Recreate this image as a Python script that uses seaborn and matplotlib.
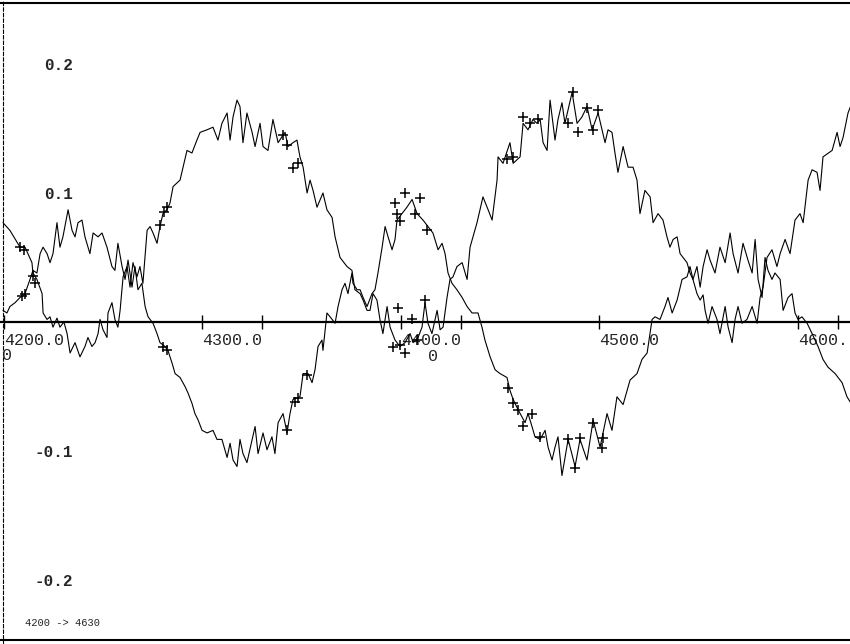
import pandas as pd
import seaborn as sns
from matplotlib import pyplot as plt

# curva P (lobulos grandes en 4320 y 4490)
p_x = [4199.5, 4203.0, 4208.1, 4210.6, 4214.1, 4214.6, 4216.6, 4219.2, 4219.7, 4221.7,
       4223.2, 4224.7, 4226.7, 4228.2, 4230.2, 4231.8, 4233.3, 4235.8, 4238.3, 4240.8,
       4242.3, 4244.3, 4245.9, 4247.4, 4248.4, 4249.9, 4251.9, 4252.4, 4254.4, 4255.9,
       4257.4, 4258.5, 4260.0, 4262.0, 4263.5, 4265.0, 4267.0, 4268.5, 4270.0, 4272.1,
       4273.6, 4275.1, 4277.1, 4278.6, 4280.1, 4282.1, 4283.6, 4285.2, 4288.7, 4290.2,
       4292.2, 4294.7, 4297.2, 4298.8, 4302.3, 4305.3, 4307.8, 4309.8, 4312.4, 4313.9,
       4315.4, 4317.4, 4318.9, 4320.4, 4322.4, 4325.0, 4326.5, 4329.0, 4330.5, 4333.0,
       4335.5, 4338.1, 4340.6, 4341.6, 4343.1, 4345.6, 4347.6, 4349.1, 4350.7, 4351.7,
       4352.7, 4354.2, 4355.7, 4357.7, 4360.7, 4362.7, 4365.3, 4366.8, 4369.3, 4372.8,
       4375.3, 4376.8, 4379.4, 4380.9, 4382.9, 4384.4, 4385.9, 4387.9, 4389.4, 4390.9,
       4393.0, 4394.5, 4397.0, 4399.5, 4402.0, 4404.6, 4406.1, 4408.6, 4410.6, 4412.1,
       4413.6, 4415.6, 4418.2, 4419.7, 4421.2, 4423.2, 4424.7, 4426.2, 4428.2, 4430.8,
       4433.3, 4434.8, 4438.3, 4441.3, 4443.9, 4445.9, 4448.4, 4448.9, 4451.4, 4454.9,
       4456.5, 4460.0, 4461.5, 4464.0, 4466.5, 4468.5, 4470.1, 4471.6, 4473.6, 4475.1,
       4477.6, 4479.1, 4481.1, 4482.6, 4486.2, 4488.7, 4491.2, 4493.7, 4496.3, 4499.3,
       4501.3, 4502.8, 4504.3, 4506.3, 4507.8, 4509.3, 4511.9, 4514.4, 4516.9, 4518.9,
       4520.4, 4522.9, 4525.5, 4527.0, 4529.5, 4532.0, 4534.0, 4535.5, 4537.1, 4539.1,
       4540.6, 4542.1, 4544.1, 4545.6, 4547.1, 4549.1, 4550.7, 4552.2, 4553.2, 4554.7,
       4556.7, 4559.2, 4560.7, 4563.3, 4564.8, 4566.8, 4568.3, 4569.8, 4571.8, 4574.3,
       4576.9, 4579.4, 4580.9, 4582.4, 4584.4, 4586.9, 4589.4, 4591.0, 4593.5, 4596.0,
       4598.5, 4601.0, 4602.6, 4605.1, 4607.1, 4609.6, 4611.1, 4612.6, 4617.2, 4619.7,
       4621.2, 4622.7, 4625.2, 4626.7]
p_y = [0.077, 0.071, 0.058, 0.058, 0.046, 0.038, 0.033, 0.022, 0.007, 0.002,
       0.004, -0.004, 0.003, -0.004, 0.000, -0.009, -0.024, -0.016, -0.027, -0.019,
       -0.012, -0.019, -0.016, -0.009, 0.002, -0.006, -0.012, 0.007, 0.015, 0.002,
       -0.004, 0.009, 0.035, 0.043, 0.027, 0.046, 0.035, 0.043, 0.030, 0.071,
       0.074, 0.069, 0.061, 0.074, 0.084, 0.087, 0.092, 0.105, 0.110, 0.120,
       0.133, 0.131, 0.141, 0.147, 0.149, 0.151, 0.141, 0.154, 0.162, 0.141,
       0.159, 0.172, 0.167, 0.139, 0.162, 0.147, 0.136, 0.154, 0.136, 0.133,
       0.157, 0.139, 0.145, 0.147, 0.136, 0.139, 0.141, 0.128, 0.120, 0.110,
       0.100, 0.110, 0.102, 0.089, 0.100, 0.087, 0.081, 0.066, 0.050, 0.043,
       0.040, 0.025, 0.022, 0.017, 0.009, 0.009, 0.022, 0.017, 0.002, -0.009,
       0.012, -0.004, -0.014, -0.019, -0.016, -0.009, -0.016, -0.012, -0.004, 0.015,
       -0.001, -0.009, 0.009, -0.006, -0.004, 0.019, 0.033, 0.035, 0.043, 0.046,
       0.033, 0.058, 0.077, 0.097, 0.087, 0.079, 0.110, 0.128, 0.123, 0.139,
       0.123, 0.128, 0.154, 0.149, 0.157, 0.154, 0.157, 0.139, 0.133, 0.172,
       0.141, 0.157, 0.170, 0.154, 0.178, 0.154, 0.159, 0.167, 0.149, 0.162,
       0.149, 0.139, 0.149, 0.147, 0.131, 0.116, 0.136, 0.120, 0.120, 0.110,
       0.084, 0.102, 0.097, 0.077, 0.084, 0.079, 0.066, 0.058, 0.064, 0.066,
       0.053, 0.050, 0.046, 0.038, 0.033, 0.022, 0.017, 0.021, 0.009, -0.001,
       0.012, 0.002, -0.009, 0.012, -0.004, -0.016, 0.002, 0.012, -0.001, 0.002,
       0.012, -0.001, 0.019, 0.027, 0.050, 0.056, 0.043, 0.053, 0.064, 0.053,
       0.079, 0.084, 0.077, 0.110, 0.118, 0.116, 0.102, 0.128, 0.133, 0.147,
       0.136, 0.143, 0.162, 0.168]

# curva Q (la otra, valles en 4320 y 4485)
q_x = [4199.5, 4201.5, 4203.0, 4205.6, 4208.1, 4210.6, 4213.1, 4214.6, 4216.6, 4218.2,
       4219.7, 4221.7, 4223.2, 4224.7, 4226.7, 4228.2, 4229.7, 4232.3, 4234.3, 4235.8,
       4237.3, 4239.3, 4240.8, 4243.3, 4244.9, 4247.4, 4249.4, 4251.9, 4254.4, 4255.9,
       4257.4, 4259.5, 4261.0, 4262.5, 4264.5, 4266.0, 4267.5, 4269.5, 4271.1, 4272.6,
       4275.1, 4277.1, 4278.6, 4281.1, 4282.6, 4284.7, 4286.2, 4288.7, 4291.2, 4292.7,
       4294.7, 4296.2, 4297.8, 4299.8, 4302.3, 4305.3, 4307.3, 4309.8, 4312.4, 4313.9,
       4315.4, 4317.4, 4318.9, 4320.4, 4322.4, 4325.0, 4326.5, 4328.0, 4330.5, 4332.5,
       4335.0, 4336.5, 4338.1, 4340.6, 4342.6, 4344.1, 4345.6, 4349.1, 4350.7, 4353.2,
       4355.2, 4356.7, 4358.2, 4360.2, 4360.7, 4362.7, 4364.3, 4366.8, 4368.3, 4370.3,
       4371.8, 4373.3, 4375.3, 4375.8, 4377.9, 4379.4, 4380.9, 4382.9, 4385.4, 4386.9,
       4388.4, 4390.5, 4392.0, 4393.5, 4395.5, 4397.0, 4398.0, 4400.5, 4403.0, 4405.6,
       4408.1, 4411.1, 4413.6, 4416.1, 4418.7, 4420.7, 4422.2, 4423.7, 4425.7, 4428.2,
       4430.8, 4433.3, 4435.8, 4438.8, 4440.8, 4442.3, 4444.9, 4447.4, 4449.9, 4453.4,
       4454.9, 4456.5, 4459.0, 4462.5, 4464.0, 4466.0, 4467.5, 4470.1, 4472.6, 4474.1,
       4476.1, 4477.6, 4479.1, 4481.1, 4484.2, 4487.7, 4490.2, 4493.7, 4496.8, 4500.3,
       4503.8, 4506.3, 4508.8, 4511.9, 4515.4, 4518.9, 4521.4, 4524.0, 4526.5, 4528.0,
       4530.5, 4533.0, 4534.5, 4536.6, 4539.1, 4541.6, 4544.1, 4545.6, 4547.1, 4549.1,
       4550.7, 4552.2, 4554.2, 4555.7, 4558.2, 4560.7, 4563.3, 4565.8, 4567.3, 4569.8,
       4572.3, 4574.8, 4576.9, 4578.4, 4579.9, 4581.9, 4583.4, 4584.9, 4586.9, 4588.4,
       4591.0, 4592.5, 4595.0, 4597.0, 4598.5, 4600.0, 4602.0, 4604.6, 4607.1, 4610.1,
       4612.6, 4615.1, 4618.7, 4622.2, 4624.7, 4626.7]
q_y = [0.009, 0.007, 0.012, 0.015, 0.019, 0.022, 0.033, 0.040, 0.038, 0.053,
       0.058, 0.053, 0.046, 0.053, 0.077, 0.058, 0.066, 0.087, 0.071, 0.066,
       0.077, 0.079, 0.066, 0.053, 0.069, 0.066, 0.069, 0.058, 0.043, 0.040,
       0.061, 0.043, 0.033, 0.048, 0.027, 0.043, 0.025, 0.030, 0.012, 0.004,
       -0.001, -0.009, -0.016, -0.019, -0.022, -0.032, -0.040, -0.043, -0.050, -0.055,
       -0.063, -0.071, -0.076, -0.084, -0.086, -0.084, -0.091, -0.091, -0.105, -0.094,
       -0.107, -0.112, -0.091, -0.102, -0.109, -0.091, -0.081, -0.102, -0.086, -0.099,
       -0.089, -0.102, -0.078, -0.071, -0.086, -0.071, -0.060, -0.058, -0.040, -0.040,
       -0.047, -0.037, -0.019, -0.014, -0.022, 0.007, 0.004, -0.001, 0.012, 0.025,
       0.030, 0.022, 0.038, 0.030, 0.025, 0.025, 0.019, 0.012, 0.022, 0.025,
       0.038, 0.058, 0.074, 0.066, 0.056, 0.064, 0.079, 0.084, 0.089, 0.095,
       0.084, 0.079, 0.074, 0.069, 0.056, 0.061, 0.053, 0.038, 0.030, 0.025,
       0.019, 0.012, 0.007, 0.007, -0.004, -0.014, -0.027, -0.037, -0.040, -0.043,
       -0.053, -0.060, -0.068, -0.078, -0.071, -0.081, -0.089, -0.091, -0.084, -0.097,
       -0.107, -0.097, -0.089, -0.119, -0.091, -0.112, -0.091, -0.107, -0.076, -0.097,
       -0.071, -0.084, -0.058, -0.064, -0.045, -0.040, -0.029, -0.024, 0.002, 0.004,
       0.002, 0.012, 0.019, 0.007, 0.017, 0.033, 0.035, 0.043, 0.033, 0.043,
       0.027, 0.043, 0.056, 0.048, 0.038, 0.058, 0.046, 0.069, 0.053, 0.038,
       0.061, 0.048, 0.038, 0.064, 0.033, 0.019, 0.050, 0.040, 0.033, 0.038,
       0.033, 0.009, 0.019, 0.022, 0.007, 0.002, 0.004, -0.001, -0.009, -0.019,
       -0.029, -0.035, -0.040, -0.047, -0.058, -0.063]

# marcas "+"
mk_x = [4208.1, 4210.1, 4210.6, 4209.1, 4214.6, 4215.6, 4278.6, 4280.6, 4282.1, 4280.1,
        4282.1, 4340.6, 4342.6, 4345.6, 4348.1, 4342.6, 4346.6, 4348.1, 4352.7, 4397.0,
        4398.0, 4399.5, 4402.0, 4407.1, 4409.6, 4413.1, 4398.5, 4396.0, 4399.5, 4402.0,
        4405.6, 4408.1, 4412.1, 4453.4, 4456.5, 4461.5, 4465.0, 4469.0, 4484.2, 4486.7,
        4489.2, 4493.7, 4496.8, 4499.3, 4453.9, 4456.5, 4459.0, 4461.5, 4466.0, 4470.1,
        4484.2, 4487.7, 4490.2, 4496.8, 4501.3, 4501.8]
mk_y = [0.058, 0.056, 0.022, 0.020, 0.036, 0.030, 0.075, 0.085, 0.089, -0.019,
        -0.022, 0.145, 0.137, 0.119, 0.123, -0.084, -0.062, -0.059, -0.041, 0.092,
        0.084, 0.078, 0.100, 0.084, 0.096, 0.071, 0.011, -0.019, -0.018, -0.024,
        0.002, -0.014, 0.017, 0.126, 0.128, 0.159, 0.154, 0.157, 0.154, 0.178,
        0.147, 0.166, 0.149, 0.164, -0.051, -0.063, -0.068, -0.081, -0.071, -0.089,
        -0.091, -0.113, -0.090, -0.078, -0.098, -0.090]

x_ticks = [4200, 4300, 4400, 4500, 4600]
x_labels = ['4200.0', '4300.0', '4400.0', '4500.0', '4600.']
x_minor = [4330, 4430, 4620]
y_ticks = [-0.2, -0.1, 0.1, 0.2]
y_labels = ['-0.2', '-0.1', '0.1', '0.2']

sns.set_style('white')
plt.rcParams['font.family'] = ['Liberation Mono', 'DejaVu Sans Mono']

curvas = pd.concat([pd.DataFrame({'x': p_x, 'y': p_y, 'curva': 'P'}),
                    pd.DataFrame({'x': q_x, 'y': q_y, 'curva': 'Q'})])
marcas = pd.DataFrame({'x': mk_x, 'y': mk_y})

fig = plt.figure(figsize=(8.5, 6.44), dpi=100)
ax = fig.add_axes([0, 0, 1, 1])
sns.lineplot(data=curvas, x='x', y='y', units='curva', estimator=None, sort=False,
             color='black', lw=0.8, ax=ax)
sns.scatterplot(data=marcas, x='x', y='y', marker='+', s=55, color='black',
                linewidth=1.1, ax=ax)

ax.set_xlim(4198, 4626.2)
ax.set_ylim(-0.2496, 0.2496)
ax.set_xlabel('')
ax.set_ylabel('')

# marco
ax.spines['right'].set_visible(False)
ax.spines['bottom'].set_position(('data', 0))
ax.spines['bottom'].set_linewidth(1.6)
ax.spines['left'].set_position(('axes', 0.004))
ax.spines['left'].set_linestyle((0, (3, 2)))
ax.spines['left'].set_linewidth(0.8)
ax.spines['top'].set_position(('axes', 0.996))
ax.spines['top'].set_linewidth(1.5)
for s in ax.spines.values():
    s.set_color('black')
ax.plot([0, 1], [0.006, 0.006], transform=ax.transAxes, color='black', lw=1.5)

ax.set_xticks(x_ticks)
ax.set_xticklabels(x_labels, ha='left')
ax.set_xticks(x_minor, minor=True)
ax.tick_params(axis='x', which='both', bottom=True, direction='inout', length=10,
               width=1, pad=3, labelsize=12, color='black')
ax.set_yticks(y_ticks)
ax.set_yticklabels(y_labels, fontweight='bold')
ax.tick_params(axis='y', left=True, length=0, pad=-50, labelsize=11.5)

ax.text(4201.5, -0.026, '0', fontsize=12, ha='center', va='center')
ax.text(4416.1, -0.027, '0', fontsize=12, ha='center', va='center')
ax.text(0.029, 0.033, '4200 -> 4630', transform=ax.transAxes, fontsize=7.5, va='center')

fig.savefig('out.png', dpi=100)
